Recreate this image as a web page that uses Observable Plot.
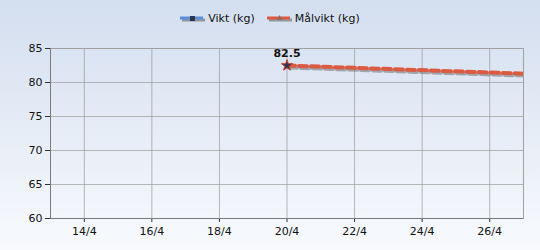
<!DOCTYPE html>
<html><head><meta charset="utf-8">
<script src="https://cdn.jsdelivr.net/npm/d3@7"></script>
<script src="https://cdn.jsdelivr.net/npm/@observablehq/plot@0.6"></script>
<style>
html,body{margin:0;padding:0}
body{width:540px;height:250px;background:linear-gradient(#d3deef,#f8fafd);font-family:"DejaVu Sans",sans-serif;overflow:hidden}
#legend{height:36px;display:flex;justify-content:center;align-items:center;font-size:11px;color:#111}
#legend .item{display:flex;align-items:center;margin:0 6px}
#legend svg{margin-right:3px}
#chart svg{background:transparent;display:block}
</style>
</head><body>
<div id="legend"></div>
<div id="chart"></div>
<script>
// data
const viktDates = ["2014-04-20"];
const viktValues = [82.5];
const malDates = ["2014-04-20", "2014-04-27"];
const malValues = [82.5, 81.3];
const xDomain = ["2014-04-13", "2014-04-27"];
const tickDates = ["2014-04-14","2014-04-16","2014-04-18","2014-04-20","2014-04-22","2014-04-24","2014-04-26"];
const tickLabels = ["14/4","16/4","18/4","20/4","22/4","24/4","26/4"];
const yTicks = [60, 65, 70, 75, 80, 85];
const seriesNames = ["Vikt (kg)", "Målvikt (kg)"];
const seriesColors = ["#5a8fdc", "#dd5a42"];

const vikt = viktDates.map((d, i) => ({date: new Date(d), value: viktValues[i]}));
const mal = malDates.map((d, i) => ({date: new Date(d), value: malValues[i]}));
const ticks = tickDates.map(d => new Date(d));
const labelOf = new Map(ticks.map((t, i) => [+t, tickLabels[i]]));

// legend
const legend = document.getElementById("legend");
seriesNames.forEach((name, i) => {
  const it = document.createElement("div");
  it.className = "item";
  const marker = i === 0
    ? `<rect x="10" y="4" width="5" height="5" fill="#2b3550"/>`
    : `<path d="M12.5 3 L15 8 L10 8 Z" fill="#8a6a6a"/>`;
  it.innerHTML = `<svg width="25" height="12"><line x1="2" y1="8" x2="25" y2="8" stroke="#777" stroke-width="3" opacity="0.7"/><line x1="0" y1="6" x2="23" y2="6" stroke="${seriesColors[i]}" stroke-width="3"/>${marker}</svg><span>${name}</span>`;
  legend.appendChild(it);
});

const chart = Plot.plot({
  width: 540,
  height: 214,
  marginLeft: 50,
  marginRight: 17,
  marginTop: 12,
  marginBottom: 32,
  style: {fontFamily: "DejaVu Sans, sans-serif", fontSize: "11px", color: "#111", background: "transparent"},
  x: {type: "utc", domain: xDomain.map(d => new Date(d)), ticks: ticks, tickFormat: d => labelOf.get(+d), tickSize: 4, tickPadding: 5, label: null},
  y: {domain: [60, 85], ticks: yTicks, tickSize: 5, tickPadding: 3, label: null},
  marks: [
    Plot.gridX(ticks, {stroke: "#9a9a9a", strokeOpacity: 0.7}),
    Plot.gridY(yTicks, {stroke: "#9a9a9a", strokeOpacity: 0.7}),
    Plot.frame({stroke: "#a0a0a0"}),
    Plot.axisX({ticks: ticks, tickFormat: d => labelOf.get(+d), tickSize: 4, tickPadding: 5, stroke: "#333"}),
    Plot.axisY({ticks: yTicks, tickSize: 5, tickPadding: 3, stroke: "#333"}),
    Plot.ruleX([new Date(xDomain[0])], {stroke: "#7a7a7a"}),
    Plot.ruleY([60], {stroke: "#7a7a7a"}),
    Plot.line(mal, {x: "date", y: "value", stroke: "#707070", strokeOpacity: 0.55, strokeWidth: 4, strokeDasharray: "8 4", dx: 2, dy: 2, clip: true}),
    Plot.line(mal, {x: "date", y: "value", stroke: seriesColors[1], strokeWidth: 4, strokeDasharray: "8 4", clip: true}),
    Plot.dot(vikt, {x: "date", y: "value", symbol: "star", r: 3.5, fill: "#2b3550", stroke: "#c04030", strokeWidth: 1}),
    Plot.text(vikt, {x: "date", y: "value", text: d => String(d.value), dy: -12, fontWeight: "bold", fontSize: 11, fill: "#111"})
  ]
});
document.getElementById("chart").appendChild(chart);
</script>
</body></html>
